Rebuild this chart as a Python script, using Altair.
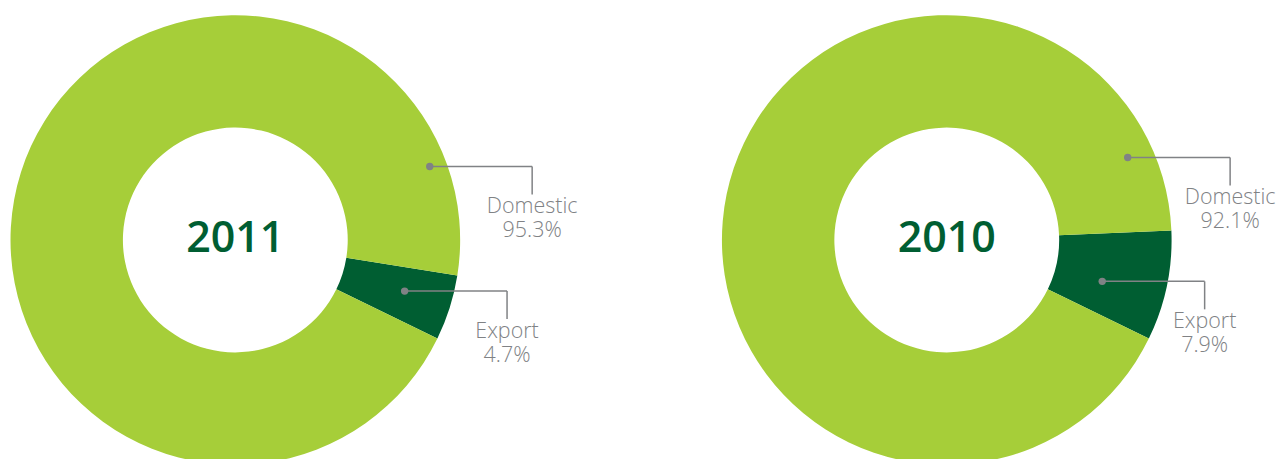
import math
import altair as alt
import pandas as pd

# ---- data ----
years = ["2011", "2010"]
categories = ["Export", "Domestic"]
share_2011 = [4.7, 95.3]
share_2010 = [7.9, 92.1]
pct_labels_2011 = ["4.7%", "95.3%"]
pct_labels_2010 = ["7.9%", "92.1%"]

# ---- style / layout ----
LIGHT = "#a6ce39"
DARK = "#005e32"
GREY = "#808285"
W, H = 455, 464
OUTER, INNER = 225, 112.5
EXPORT_END_DEG = 116  # where the export wedge ends (clockwise from 12 o'clock)
# callout anchors: (angle deg clockwise from top, radius px) for Export, Domestic
anchors = {
    "2011": [(106.8, 177), (69.3, 208)],
    "2010": [(104.9, 161), (65.5, 199)],
}
ELBOW = 102.5
DROP = 28
TEXT_OFF = 46.6
LINE_GAP = 24
FONT = "Open Sans"


def panel(year, shares, pct_labels):
    theta0 = math.radians(EXPORT_END_DEG - shares[0] * 3.6)
    df = pd.DataFrame({"category": categories, "share": shares, "order": [0, 1]})

    xs = alt.Scale(domain=[-W / 2, W / 2], nice=False, zero=False)
    ys = alt.Scale(domain=[-H / 2, H / 2], nice=False, zero=False)

    arcs = alt.Chart(df).mark_arc(outerRadius=OUTER, innerRadius=INNER).encode(
        theta=alt.Theta("share:Q", stack=True,
                        scale=alt.Scale(range=[theta0, theta0 + 2 * math.pi])),
        color=alt.Color("category:N",
                        scale=alt.Scale(domain=categories, range=[DARK, LIGHT]),
                        legend=None),
        order=alt.Order("order:Q"),
    )

    rows = []
    for cat, pl, (ang, r) in zip(categories, pct_labels, anchors[year]):
        a = math.radians(ang)
        dx, dy = r * math.sin(a), r * math.cos(a)
        rows.append({
            "name": cat, "pct": pl,
            "dx": dx, "dy": dy,
            "cx": dx + ELBOW,
            "ey": dy - DROP,
            "ty": dy - TEXT_OFF,
            "ty2": dy - TEXT_OFF - LINE_GAP,
        })
    cdf = pd.DataFrame(rows)
    base = alt.Chart(cdf)
    hline = base.mark_rule(color=GREY, strokeWidth=1.5).encode(
        x=alt.X("dx:Q", scale=xs, axis=None), x2="cx:Q",
        y=alt.Y("dy:Q", scale=ys, axis=None))
    vline = base.mark_rule(color=GREY, strokeWidth=1.5).encode(
        x=alt.X("cx:Q", scale=xs, axis=None),
        y=alt.Y("dy:Q", scale=ys, axis=None), y2="ey:Q")
    dots = base.mark_circle(color=GREY, opacity=1, size=55).encode(
        x=alt.X("dx:Q", scale=xs, axis=None),
        y=alt.Y("dy:Q", scale=ys, axis=None))
    tstyle = dict(color=GREY, font=FONT, fontSize=21.5, fontWeight=300,
                  align="center", baseline="alphabetic")
    names = base.mark_text(**tstyle).encode(
        x=alt.X("cx:Q", scale=xs, axis=None),
        y=alt.Y("ty:Q", scale=ys, axis=None),
        text="name:N")
    pcts = base.mark_text(**tstyle).encode(
        x=alt.X("cx:Q", scale=xs, axis=None),
        y=alt.Y("ty2:Q", scale=ys, axis=None),
        text="pct:N")

    ydf = pd.DataFrame({"year": [year], "x": [0.0], "y": [0.0]})
    ytext = alt.Chart(ydf).mark_text(color=DARK, font=FONT, fontSize=43,
                                     fontWeight=600, align="center",
                                     baseline="alphabetic", dy=12).encode(
        x=alt.X("x:Q", scale=xs, axis=None),
        y=alt.Y("y:Q", scale=ys, axis=None),
        text="year:N")

    return alt.layer(arcs, hline, vline, dots, names, pcts, ytext).properties(width=W, height=H)


chart = alt.hconcat(
    panel("2011", share_2011, pct_labels_2011),
    panel("2010", share_2010, pct_labels_2010),
    spacing=257, bounds="flush",
).properties(padding=0).configure_view(stroke=None)

chart.save("out.html", embed_options={"renderer": "svg", "actions": False})
